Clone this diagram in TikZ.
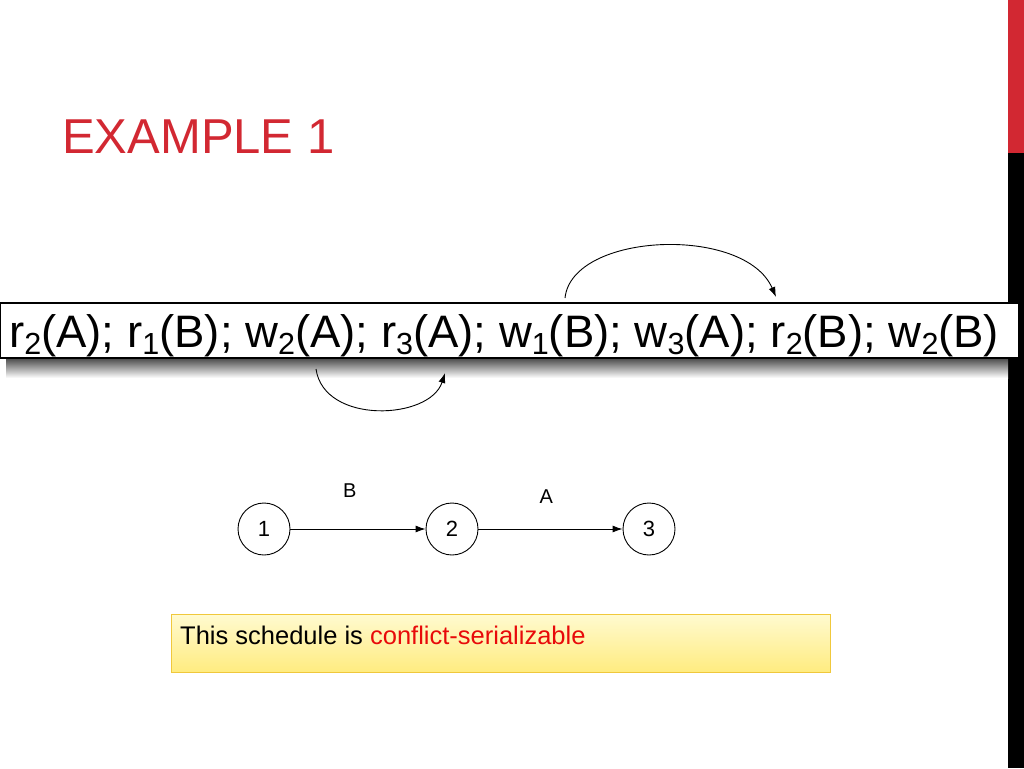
\documentclass[tikz,border=0pt]{standalone}
\usepackage{fontspec}
\setmainfont{Liberation Sans}
\usetikzlibrary{arrows.meta,positioning}
\definecolor{titlered}{RGB}{210,40,50}
\definecolor{hotred}{RGB}{232,10,10}
\definecolor{boxgold}{RGB}{240,200,60}
\definecolor{yellowtop}{RGB}{255,250,208}
\definecolor{yellowbot}{RGB}{255,236,128}
\newcommand\sbx[1]{\raisebox{-0.17em}{\fontsize{30.5}{31}\selectfont #1}}
\tikzset{
  conn/.style={line width=0.9pt,-{Latex[length=10pt,width=7pt]}},
  vertex/.style={circle,draw,line width=0.9pt,minimum size=52pt,inner sep=0pt,font=\fontsize{22}{22}\selectfont},
  elabel/.style={font=\fontsize{20}{20}\selectfont,inner sep=0pt},
}
\begin{document}
\begin{tikzpicture}[x=1pt,y=-1pt]
\useasboundingbox (0,0) rectangle (1024,768);
% right side bar
\fill[titlered] (1008,0) rectangle (1024,153);
\fill[black] (1008,153) rectangle (1024,768);
% title
\node[anchor=base west,inner sep=0pt,text=titlered,font=\fontsize{49}{49}\selectfont] (title) at (62,153) {EXAMPLE 1};
% shadow of schedule box
\shade[top color=black!75,bottom color=white] (6,357) rectangle (1008,378);
% schedule box
\node[draw,fill=white,line width=1.1pt,minimum width=1019pt,minimum height=55pt,inner sep=0pt] (box) at (509.5,330.5) {};
\node[anchor=base west,inner sep=0pt,font=\fontsize{45.5}{46}\selectfont] (sched) at (9,347)
 {r\sbx{2}(A); r\sbx{1}(B); w\sbx{2}(A); r\sbx{3}(A); w\sbx{1}(B); w\sbx{3}(A); r\sbx{2}(B); w\sbx{2}(B)};
% arcs
\coordinate (w1B) at (565,298);
\coordinate (r2B) at (776,297);
\coordinate (r1B) at (316,369);
\coordinate (w2A) at (445,373);
\draw[conn] (w1B) .. controls (572,232) and (745,225) .. (r2B);
\draw[conn] (r1B) .. controls (324,425) and (430,420) .. (w2A);
% precedence graph
\node[vertex] (n1) at (264,529) {1};
\node[vertex] (n2) at (452,529) {2};
\node[vertex] (n3) at (649,529) {3};
\draw[conn] (n1) -- node[elabel,pos=0.44,yshift=38pt] {B} (n2);
\draw[conn] (n2) -- node[elabel,pos=0.47,yshift=32pt] {A} (n3);
% conclusion box
\node[draw=boxgold,line width=1pt,top color=yellowtop,bottom color=yellowbot,minimum width=659pt,minimum height=58pt,inner sep=0pt] (concl) at (500.5,643) {};
\node[anchor=base west,inner sep=0pt,font=\fontsize{25.5}{26}\selectfont] (ctext) at (180,644)
 {This schedule is \textcolor{hotred}{conflict-serializable}};
\end{tikzpicture}
\end{document}
